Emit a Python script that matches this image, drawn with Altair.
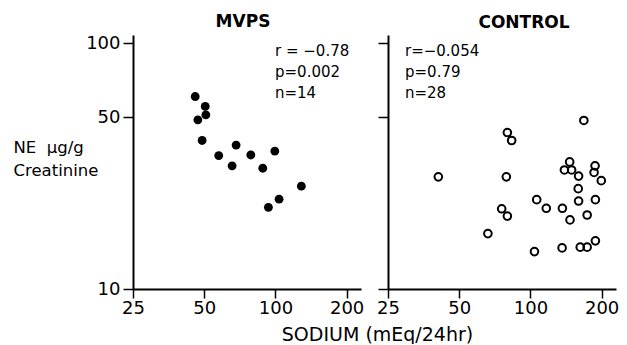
import altair as alt
import pandas as pd

# ---- data ----
mvps_sodium = [45.8, 50.5, 50.8, 47.0, 49.0, 57.6, 68.2, 65.6, 78.7, 88.4, 99.4, 93.4, 103.6, 128.7]
mvps_ne = [60.7, 55.3, 51.1, 48.8, 40.2, 34.9, 38.5, 31.7, 35.1, 31.0, 36.4, 21.5, 23.2, 26.2]

control_sodium = [40.8, 79.9, 83.3, 79.1, 75.6, 79.9, 66.1, 104.0, 106.3, 116.7, 136.5, 136.1,
                  147.0, 146.5, 139.2, 149.3, 159.8, 159.2, 159.8, 168.2, 162.4, 173.7, 173.7,
                  187.6, 185.8, 199.3, 188.2, 188.2]
control_ne = [28.6, 43.3, 40.2, 28.6, 21.2, 19.8, 16.8, 14.2, 23.1, 21.3, 21.3, 14.7,
              19.1, 32.9, 30.5, 30.5, 28.8, 25.6, 22.8, 48.5, 14.8, 14.8, 20.0,
              31.7, 29.8, 27.6, 23.1, 15.7]

x_ticks = [25, 50, 100, 200]
y_ticks = [10, 50, 100]
mvps_stats = ["r = \u22120.78", "p=0.002", "n=14"]
control_stats = ["r=\u22120.054", "p=0.79", "n=28"]
x_title = "SODIUM (mEq/24hr)"
y_title = ["NE\u00a0 \u03bcg/g", "Creatinine"]

FONT = "DejaVu Sans"
W, H = 228, 254
X_DOM = [25, 230]
Y_DOM = [10, 108]


def panel(xs, ys, stats, title, filled, left, title_dx, stat_x):
    df = pd.DataFrame({"sodium": xs, "ne": ys})
    xaxis_kw = dict(values=x_ticks, format="d", grid=False, tickSize=9, tickWidth=1.5,
                    tickColor="black", domainColor="black", domainWidth=2,
                    labelFont=FONT, labelFontSize=18, labelColor="black", labelPadding=1,
                    labelFlush=False)
    if left:
        xaxis = alt.Axis(title=x_title, titleFont=FONT, titleFontSize=19,
                         titleFontWeight="normal", titleColor="black",
                         titleX=244, titleY=51, titleAlign="center",
                         titleBaseline="alphabetic", **xaxis_kw)
        yaxis = alt.Axis(values=y_ticks, format="d", grid=False, tickSize=10, tickWidth=1.5,
                         tickColor="black", domainColor="black", domainWidth=2,
                         labelFont=FONT, labelFontSize=18, labelColor="black",
                         labelPadding=3, labelFlush=False,
                         title=y_title, titleAngle=0, titleAlign="left",
                         titleBaseline="alphabetic", titleX=-120, titleY=117.5,
                         titleFont=FONT, titleFontSize=16.5, titleFontWeight="normal",
                         titleColor="black", titleLineHeight=23)
    else:
        xaxis = alt.Axis(title=None, **xaxis_kw)
        yaxis = alt.Axis(values=y_ticks, grid=False, tickSize=10, tickWidth=1.5,
                         tickColor="black", domainColor="black", domainWidth=2,
                         labels=False, title=None)

    base = alt.Chart(df)
    if filled:
        pts = base.mark_point(shape="circle", filled=True, size=78, color="black", opacity=1)
    else:
        pts = base.mark_point(shape="circle", filled=False, size=58, strokeWidth=2,
                              color="black", opacity=1)
    pts = pts.encode(
        x=alt.X("sodium:Q", scale=alt.Scale(type="log", domain=X_DOM, nice=False), axis=xaxis),
        y=alt.Y("ne:Q", scale=alt.Scale(type="log", domain=Y_DOM, nice=False), axis=yaxis),
    )
    txt = alt.Chart(pd.DataFrame({"k": [0]})).mark_text(
        text=stats, align="left", baseline="alphabetic", font=FONT, fontSize=15,
        lineHeight=21, color="black"
    ).encode(x=alt.value(stat_x), y=alt.value(20.5))

    return alt.layer(pts, txt).properties(
        width=W, height=H,
        title=alt.TitleParams(title, font=FONT, fontSize=17, fontWeight="bold",
                              color="black", anchor="middle", dx=title_dx, offset=3),
    )


left_chart = panel(mvps_sodium, mvps_ne, mvps_stats, "MVPS", True, True, -4, 142)
right_chart = panel(control_sodium, control_ne, control_stats, "CONTROL", False, False, 22, 17)

chart = alt.hconcat(left_chart, right_chart, spacing=27, bounds="flush").properties(
    padding={"left": 5, "top": 5, "right": 0, "bottom": 0},
    background="white",
).configure_view(stroke=None)

chart.save("out.html", embed_options={"renderer": "svg", "actions": False})
